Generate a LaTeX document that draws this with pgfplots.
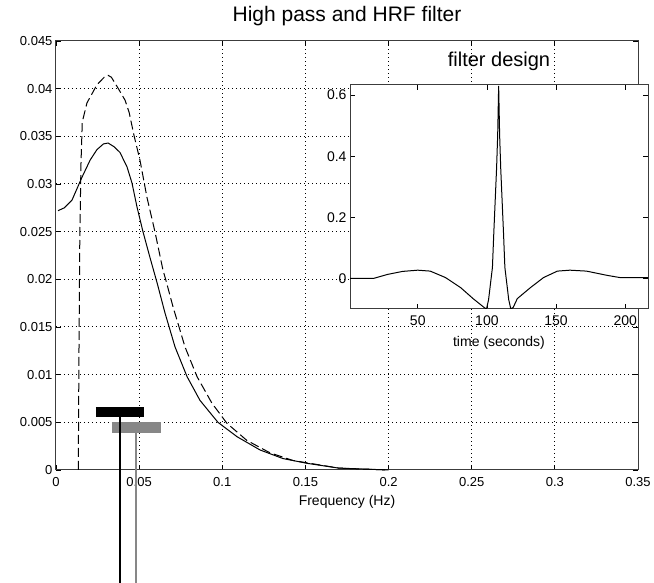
\documentclass[border=0pt]{standalone}
\usepackage{fontspec}
\setmainfont{Liberation Sans}
\usepackage{pgfplots}
\pgfplotsset{compat=1.18}
\definecolor{bargray}{RGB}{135,135,135}
\definecolor{axgray}{RGB}{60,60,60}
\begin{document}
\begin{tikzpicture}
\begin{axis}[name=main, at={(0pt,0pt)}, anchor=south west, scale only axis,
  width=582pt, height=429pt,
  xmin=0, xmax=0.35, ymin=0, ymax=0.045,
  xtick={0,0.05,0.1,0.15,0.2,0.25,0.3,0.35},
  ytick={0,0.005,0.01,0.015,0.02,0.025,0.03,0.035,0.04,0.045},
  scaled x ticks=false, scaled y ticks=false,
  /pgf/number format/assume math mode=true,
  xticklabel style={/pgf/number format/fixed, /pgf/number format/precision=2, yshift=-4pt},
  yticklabel style={/pgf/number format/fixed, /pgf/number format/precision=3},
  tick label style={font=\fontsize{13}{15}\selectfont},
  tick align=inside, major tick length=5pt, tick style={black, line width=0.8pt},
  grid=major, major grid style={black, line width=1pt, dash pattern=on 1pt off 3pt},
  axis line style={axgray, line width=1pt},
  title={High pass and HRF filter},
  title style={font=\fontsize{21}{25}\selectfont, at={(axis description cs:0.5,1)}, anchor=base, yshift=13pt},
  xlabel={Frequency (Hz)},
  xlabel style={font=\fontsize{14}{16}\selectfont, at={(axis description cs:0.5,0)}, anchor=north, yshift=-22pt},
  clip=false,
]
\addplot[black, line width=1pt] coordinates {
(0.0012,0.0272)(0.0050,0.0275)(0.0096,0.0283)(0.0156,0.0307)(0.0205,0.0325)(0.0246,0.0336)(0.0285,0.0342)(0.0313,0.0343)(0.0350,0.0339)(0.0385,0.0333)(0.0427,0.0318)(0.0457,0.0301)(0.0487,0.0276)(0.0523,0.0250)(0.0565,0.0223)(0.0610,0.0195)(0.0655,0.0165)(0.0716,0.0129)(0.0788,0.0098)(0.0866,0.0073)(0.0974,0.0050)(0.1088,0.0035)(0.1227,0.0021)(0.1365,0.0012)(0.1510,0.0007)(0.1700,0.0002)(0.2000,0.0000)
};
\addplot[black, line width=1pt, dash pattern=on 9pt off 4pt] coordinates {
(0.0134,0)(0.0138,0.012)(0.0143,0.024)(0.0150,0.032)(0.0158,0.0365)(0.0186,0.0385)(0.0246,0.0404)(0.0290,0.0412)(0.0313,0.0414)(0.0333,0.0412)(0.0375,0.0400)(0.0415,0.0388)(0.0440,0.0375)(0.0469,0.0351)(0.0505,0.0325)(0.0547,0.0286)(0.0595,0.0250)(0.0643,0.0210)(0.0661,0.0199)(0.0704,0.0171)(0.0776,0.0129)(0.0848,0.0098)(0.0938,0.0070)(0.1028,0.0049)(0.1148,0.0031)(0.1287,0.0018)(0.1425,0.0010)(0.1527,0.0007)(0.1700,0.0002)(0.2000,0)
};
\addplot[bargray, line width=11pt] coordinates {(0.0337,0.00445)(0.0631,0.00445)};
\addplot[bargray, line width=2pt] coordinates {(0.0481,0.0039)(0.0481,-0.0125)};
\addplot[black, line width=10pt] coordinates {(0.024,0.0061)(0.053,0.0061)};
\addplot[black, line width=2pt] coordinates {(0.0385,0.0056)(0.0385,-0.0125)};
\end{axis}
\begin{axis}[name=inset, at={(294pt,161pt)}, anchor=south west, scale only axis,
  width=298pt, height=224pt,
  xmin=1, xmax=216.5, ymin=-0.1, ymax=0.633,
  xtick={50,100,150,200}, ytick={0,0.2,0.4,0.6},
  axis background/.style={fill=white},
  /pgf/number format/assume math mode=true,
  xticklabel style={yshift=-3pt},
  yticklabel style={/pgf/number format/fixed, /pgf/number format/precision=1},
  tick label style={font=\fontsize{14}{16}\selectfont},
  tick align=inside, major tick length=5pt, tick style={black, line width=0.8pt},
  axis line style={axgray, line width=1pt},
  title={filter design},
  title style={font=\fontsize{20}{24}\selectfont, at={(axis description cs:0.5,1)}, anchor=base, yshift=12pt},
  xlabel={time (seconds)},
  xlabel style={font=\fontsize{14}{16}\selectfont, at={(axis description cs:0.5,0)}, anchor=base, yshift=-38pt},
]
\addplot[black, line width=1pt] coordinates {
(1,0)(18,0)(28,0.013)(39,0.023)(50,0.027)(59,0.024)(70,0.003)(81,-0.03)(90,-0.066)(98,-0.095)(99.7,-0.1)(101.2,-0.07)(104,0.036)(105,0.15)(107,0.36)(107.8,0.47)(108.5,0.63)(109.2,0.47)(110,0.36)(112,0.15)(113,0.036)(115.8,-0.07)(117.3,-0.1)(119,-0.095)(122,-0.066)(131.5,-0.03)(141,0.003)(151,0.024)(160,0.027)(172,0.024)(187,0.01)(196,0.003)(216.5,0.003)
};
\end{axis}
\pgfresetboundingbox
\path[use as bounding box] (-56pt,-113pt) rectangle (598pt,470pt);
\end{tikzpicture}
\end{document}
